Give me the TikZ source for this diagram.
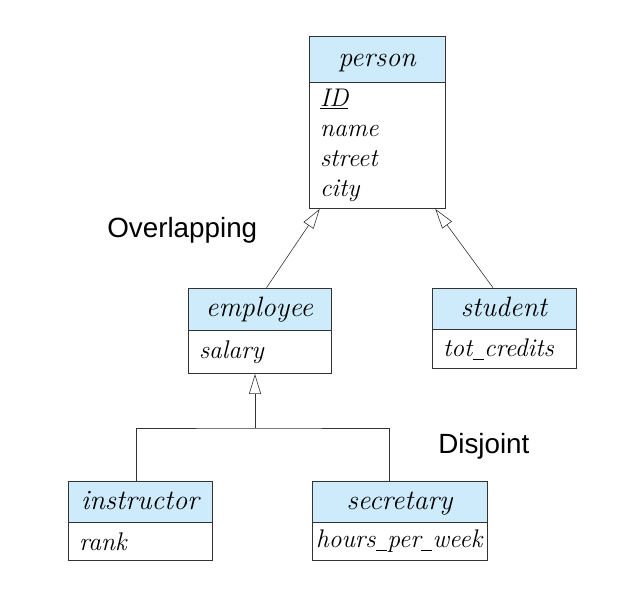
\documentclass[tikz,border=0pt]{standalone}
\usepackage{fontspec}
\usepackage{tikz}
\usetikzlibrary{positioning,arrows.meta}
\newfontfamily\labelfont{Liberation Sans}
\definecolor{headblue}{RGB}{205,235,250}
\newcommand{\usc}{\kern0.02em\rule[-0.12em]{0.42em}{0.6pt}\kern0.02em}

\begin{document}
\begin{tikzpicture}[x=1pt,y=-1pt,line width=0.6pt]
    \tikzstyle{head}=[rectangle,draw=black!80,fill=headblue,inner sep=0pt,text height=21pt,text depth=5.6pt,font=\fontsize{28}{30}\selectfont\itshape]
    \tikzstyle{attr}=[rectangle,draw=black!80,fill=white,inner xsep=11pt,inner ysep=0pt,align=left,font=\fontsize{25.5}{30}\selectfont\itshape]
    \tikzstyle{gen}=[draw=black!80,-{Triangle[open,length=20pt,width=12pt]}]
    \tikzstyle{label}=[inner sep=0pt,anchor=base west,font=\labelfont\fontsize{27.8}{32}\selectfont]
    \useasboundingbox (0,0) rectangle (627,602);

    % superclass
    \node[head, minimum width=136, minimum height=46] (person) at (377,59) {person};
    \node[attr, below=0pt of person, text width=114, minimum height=126] (person-attr) {\underline{ID}\\ name\\ street\\ city};

    % subclasses
    \node[head, minimum width=143, minimum height=42] (employee) at (259.5,309) {employee};
    \node[attr, below=0pt of employee, text width=121, minimum height=43] (employee-attr) {salary};

    \node[head, minimum width=144, minimum height=41] (student) at (504,308.5) {student};
    \node[attr, below=0pt of student, text width=122, minimum height=39] (student-attr) {tot\usc credits};

    \node[head, minimum width=144, minimum height=41] (instructor) at (140,501.5) {instructor};
    \node[attr, below=0pt of instructor, text width=122, minimum height=38] (instructor-attr) {rank};

    \node[head, minimum width=175, minimum height=41] (secretary) at (399.5,501.5) {secretary};
    \node[attr, below=0pt of secretary, inner xsep=4pt, text width=167, minimum height=38] (secretary-attr) {hours\usc per\usc week};

    \node[label] (overlapping) at (107,237) {Overlapping};
    \node[label] (disjoint) at (438,453) {Disjoint};

    % generalisation
    \draw[gen] ([xshift=7]employee.north) -- ([xshift=11]person-attr.south west);
    \draw[gen] ([xshift=-11]student.north) -- ([xshift=-10]person-attr.south east);

    \coordinate (fork) at (255,428);
    \draw[gen] (fork) -- ([xshift=-4.5]employee-attr.south);
    \draw[draw=black!80] ([xshift=-4]instructor.north) |- (fork) -| ([xshift=-10.5]secretary.north);
\end{tikzpicture}
\end{document}
